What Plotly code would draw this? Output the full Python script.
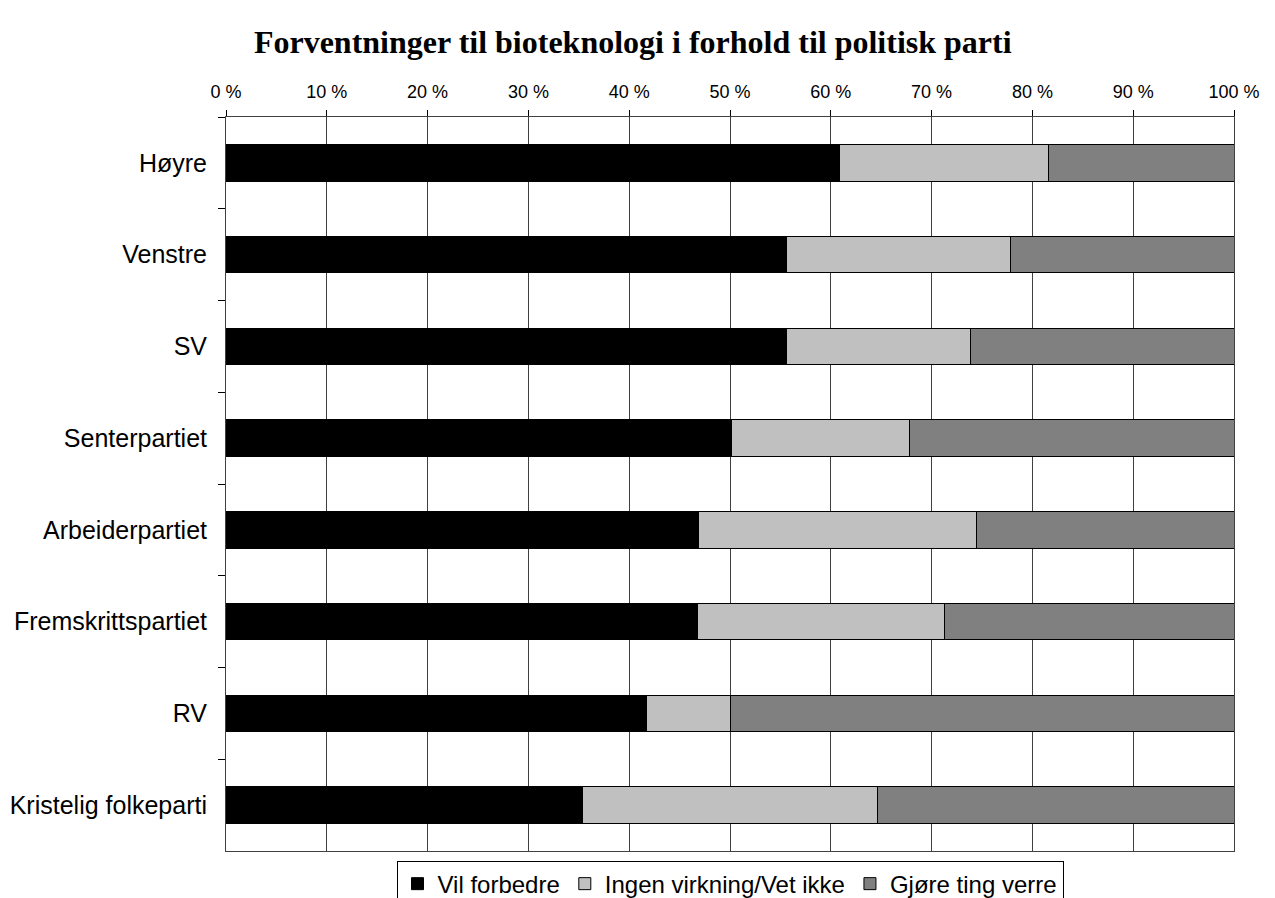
import plotly.graph_objects as go

parties = ['Høyre', 'Venstre', 'SV', 'Senterpartiet', 'Arbeiderpartiet',
           'Fremskrittspartiet', 'RV', 'Kristelig folkeparti']
forbedre = [60.9, 55.6, 55.6, 50.1, 46.9, 46.8, 41.7, 35.4]
ingen = [20.7, 22.2, 18.3, 17.7, 27.6, 24.5, 8.3, 29.2]
verre = [18.4, 22.2, 26.1, 32.2, 25.5, 28.7, 50.0, 35.4]

series = [
    ('Vil forbedre', forbedre, '#000000'),
    ('Ingen virkning/Vet ikke', ingen, '#C0C0C0'),
    ('Gjøre ting verre', verre, '#808080'),
]

fig = go.Figure()
for name, vals, color in series:
    fig.add_trace(go.Bar(
        name=name,
        y=parties,
        x=vals,
        orientation='h',
        marker=dict(color=color, line=dict(color='#000000', width=1)),
    ))

# the page body adds ~8px, so margins are pulled in by that much
fig.update_layout(
    barmode='stack',
    bargap=0.6,
    width=1275,
    height=898,
    margin=dict(l=218, r=49, t=109, b=55, autoexpand=False),
    paper_bgcolor='white',
    plot_bgcolor='white',
    font=dict(family='Liberation Sans, Arial', size=25, color='black'),
    title=dict(
        text='<b>Forventninger til bioteknologi i forhold til politisk parti</b>',
        font=dict(family='Liberation Serif, Times New Roman', size=32, color='black'),
        x=0.49, xanchor='center', y=0.962, yanchor='middle',
    ),
    legend=dict(
        orientation='h',
        x=0.5, xanchor='center',
        y=-0.013, yanchor='top',
        bordercolor='#000000', borderwidth=1,
        bgcolor='white',
        font=dict(size=24),
        itemwidth=30,
        traceorder='normal',
    ),
    xaxis=dict(
        side='top',
        range=[0, 100],
        tickvals=list(range(0, 101, 10)),
        ticktext=[f'{v} %' for v in range(0, 101, 10)],
        ticks='outside', ticklen=6, tickcolor='#000000',
        showgrid=True, gridcolor='#404040', gridwidth=1,
        showline=True, linecolor='#404040', linewidth=1, mirror=True,
        tickfont=dict(size=18),
        ticklabelstandoff=5,
        zeroline=False,
        automargin=False,
    ),
    yaxis=dict(
        autorange='reversed',
        ticks='outside', ticklen=7, tickcolor='#000000',
        tickson='boundaries',
        showline=True, linecolor='#404040', linewidth=1, mirror=True,
        showgrid=False,
        tickfont=dict(size=25),
        ticklabelstandoff=13,
        automargin=False,
    ),
)

fig.write_html('out.html')
